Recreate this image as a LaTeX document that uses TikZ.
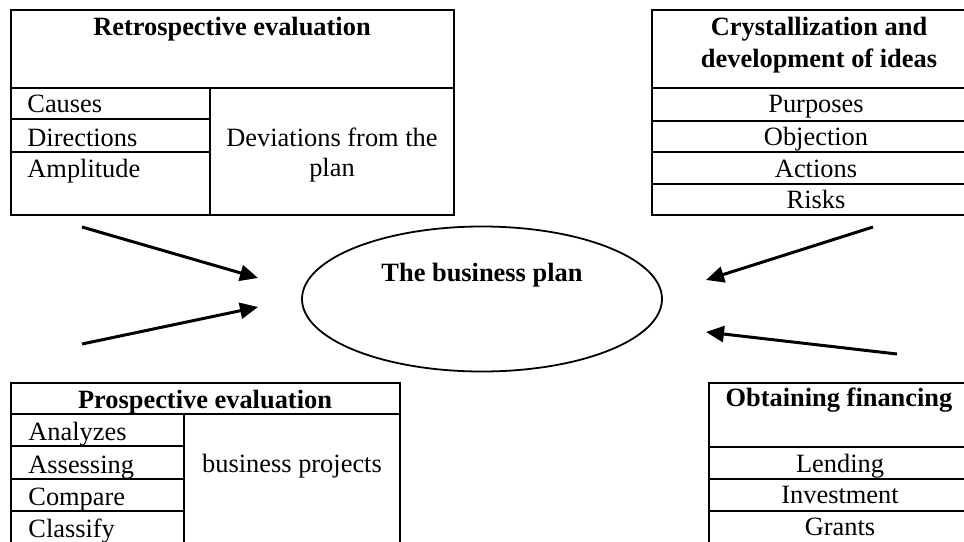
\documentclass[tikz,border=0pt,12pt]{standalone}
\usepackage{fontspec}
\setmainfont{Liberation Serif}
\usetikzlibrary{arrows.meta,shapes.geometric}

\begin{document}
\begin{tikzpicture}[x=0.5pt,y=-0.5pt,
    grid/.style={line width=1.1pt},
    cell/.style={inner sep=0pt,font=\fontsize{13.2}{15}\selectfont},
    head/.style={inner sep=0pt,font=\fontsize{13.2}{16}\selectfont\bfseries,align=center},
    feed/.style={-{Triangle[length=9pt,width=8pt]},line width=1.5pt}]
    \useasboundingbox (0,0) rectangle (964,541);

    % Retrospective evaluation
    \draw[grid] (11,10) rectangle (454,215);
    \draw[grid] (11,88) -- (454,88) (210,88) -- (210,215);
    \draw[grid] (11,119) -- (210,119) (11,152) -- (210,152);
    \node[head,anchor=base] (retro) at (232,35) {Retrospective evaluation};
    \node[cell,anchor=base west] (causes) at (27,112) {Causes};
    \node[cell,anchor=base west] (directions) at (27,146) {Directions};
    \node[cell,anchor=base west] (amplitude) at (27,177) {Amplitude};
    \node[cell,align=center] (deviations) at (332,155) {Deviations from the\\plan};

    % Crystallization of ideas
    \draw[grid] (652,10) rectangle (985,215);
    \draw[grid] (652,88) -- (985,88) (652,121) -- (985,121)
                (652,152) -- (985,152) (652,184) -- (985,184);
    \node[head] (ideas) at (819,45) {Crystallization and\\development of ideas};
    \node[cell,anchor=base] (purposes) at (816,112) {Purposes};
    \node[cell,anchor=base] (objection) at (816,145) {Objection};
    \node[cell,anchor=base] (actions) at (816,177) {Actions};
    \node[cell,anchor=base] (risks) at (816,208) {Risks};

    % Prospective evaluation (runs off the bottom)
    \draw[grid] (11,545) -- (11,383) -- (400,383) -- (400,545);
    \draw[grid] (11,414) -- (400,414) (184,414) -- (184,545);
    \draw[grid] (11,446) -- (184,446) (11,479) -- (184,479) (11,511) -- (184,511);
    \node[head,anchor=base] (prosp) at (205,408) {Prospective evaluation};
    \node[cell,anchor=base west] (analyzes) at (28,440) {Analyzes};
    \node[cell,anchor=base west] (assessing) at (28,473) {Assessing};
    \node[cell,anchor=base west] (compare) at (28,505) {Compare};
    \node[cell,anchor=base west] (classify) at (28,537) {Classify};
    \node[cell,anchor=base] (projects) at (292,472) {business projects};

    % Obtaining financing
    \draw[grid] (709,545) -- (709,383) -- (975,383);
    \draw[grid] (709,447) -- (975,447) (709,479) -- (975,479) (709,511) -- (975,511);
    \node[head,anchor=base] (finance) at (839,406) {Obtaining financing};
    \node[cell,anchor=base] (lending) at (840,472) {Lending};
    \node[cell,anchor=base] (investment) at (840,503) {Investment};
    \node[cell,anchor=base] (grants) at (840,535) {Grants};

    % The business plan
    \node[draw,ellipse,line width=0.9pt,inner sep=0pt,minimum width=180pt,minimum height=72.5pt,
          font=\fontsize{13.2}{16}\selectfont\bfseries,text height=8.5pt,text depth=26.5pt] (plan) at (482,299) {The business plan};

    % Arrows into the plan
    \coordinate (retroout) at (82,227);
    \coordinate (retroin) at (258,278);
    \coordinate (prospout) at (82,344);
    \coordinate (prospin) at (258,307);
    \coordinate (ideasout) at (873,227);
    \coordinate (ideasin) at (706,280);
    \coordinate (financeout) at (897,354);
    \coordinate (financein) at (706,332);
    \draw[feed] (retroout) -- (retroin);
    \draw[feed] (prospout) -- (prospin);
    \draw[feed] (ideasout) -- (ideasin);
    \draw[feed] (financeout) -- (financein);
\end{tikzpicture}
\end{document}
